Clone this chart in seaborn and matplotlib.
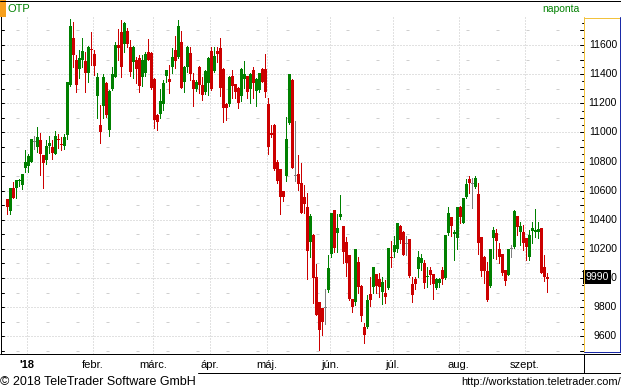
import numpy as np
import pandas as pd
import matplotlib
matplotlib.use("Agg")
import matplotlib.pyplot as plt
import seaborn as sns
from matplotlib.transforms import blended_transform_factory
from matplotlib.patches import Rectangle
from matplotlib.lines import Line2D

# ---------------- data (daily OHLC, OTP, Dec 2017 - Sep 2018) ----------------
open_ = [10540, 10462, 10615, 10620, 10665, 10639, 10753, 10771, 10799, 10936,
         10902, 10948, 10845, 10810, 10906, 10900, 10849, 10955, 10920, 10909,
         10982, 11325, 11646, 11497, 11435, 11497, 11490, 11405, 11568, 11536,
         11252, 11051, 11183, 11337, 11016, 11298, 11383, 11600, 11687, 11605,
         11696, 11589, 11481, 11497, 11508, 11383, 11405, 11554, 11543, 11367,
         11119, 11126, 11193, 11389, 11367, 11451, 11566, 11520, 11623, 11348,
         11451, 11543, 11360, 11298, 11451, 11325, 11280, 11337, 11559, 11421,
         11559, 11582, 11435, 11193, 11193, 11387, 11330, 11307, 11252, 11367,
         11387, 11298, 11428, 11284, 11291, 11435, 11435, 11193, 10995, 11051,
         10799, 10748, 10597, 10700, 11062, 11360, 10700, 10712, 10655, 10558,
         10490, 10249, 10295, 10009, 9833, 9792, 9792, 9918, 10165, 10467,
         10311, 10417, 10357, 10249, 10158, 9854, 9838, 10112, 9945, 9666,
         9661, 9890, 9940, 10027, 9991, 9906, 9895, 9929, 10146, 10181,
         10197, 10357, 10318, 10231, 10266, 9957, 9991, 10059, 10105, 10105,
         10010, 10055, 10027, 9929, 9968, 10055, 9997, 10311, 10416, 10302,
         10272, 10490, 10380, 10554, 10677, 10645, 10622, 10577, 10279, 10146,
         10050, 9945, 10272, 10311, 10197, 10165, 10055, 10020, 10197, 10210,
         10425, 10318, 10318, 10272, 10146, 10325, 10318, 10318, 10341, 10073,
         10009]
high = [10545, 10620, 10660, 10675, 10680, 10715, 10879, 10855, 10955, 10975,
        11037, 10998, 10845, 10948, 10975, 10948, 11010, 10989, 10970, 10989,
        11344, 11779, 11756, 11531, 11566, 11646, 11554, 11590, 11692, 11566,
        11405, 11188, 11400, 11348, 11290, 11451, 11623, 11710, 11772, 11756,
        11714, 11634, 11590, 11520, 11531, 11531, 11554, 11641, 11550, 11370,
        11125, 11298, 11360, 11430, 11463, 11577, 11662, 11772, 11696, 11455,
        11595, 11584, 11405, 11360, 11455, 11383, 11425, 11520, 11589, 11589,
        11589, 11650, 11440, 11200, 11390, 11428, 11335, 11310, 11440, 11490,
        11390, 11405, 11451, 11370, 11410, 11440, 11536, 11234, 11051, 11055,
        10810, 10752, 10600, 11108, 11400, 11365, 11078, 10845, 10792, 10639,
        10582, 10440, 10300, 10096, 9835, 9795, 9922, 10158, 10445, 10470,
        10440, 10570, 10360, 10279, 10160, 9858, 10200, 10142, 9950, 9689,
        9883, 10005, 10076, 10030, 10032, 10009, 9986, 10208, 10256, 10288,
        10378, 10364, 10320, 10288, 10270, 10009, 10009, 10185, 10165, 10125,
        10078, 10073, 10030, 9998, 9998, 10073, 10298, 10485, 10420, 10329,
        10490, 10495, 10550, 10677, 10700, 10684, 10700, 10654, 10282, 10150,
        10112, 10200, 10348, 10334, 10238, 10168, 10058, 10200, 10226, 10465,
        10428, 10387, 10364, 10275, 10329, 10387, 10471, 10387, 10345, 10158,
        10032]
low = [10440, 10440, 10550, 10552, 10630, 10612, 10730, 10730, 10795, 10884,
       10867, 10707, 10620, 10780, 10856, 10820, 10849, 10890, 10880, 10884,
       10952, 11320, 11451, 11280, 11371, 11451, 11280, 11348, 11463, 11394,
       11096, 10925, 11096, 11108, 10977, 11290, 11380, 11497, 11383, 11550,
       11589, 11389, 11371, 11337, 11275, 11321, 11389, 11497, 11298, 11032,
       11016, 11096, 11154, 11348, 11268, 11405, 11440, 11508, 11305, 11280,
       11417, 11360, 11183, 11284, 11268, 11222, 11261, 11257, 11291, 11417,
       11486, 11252, 11069, 11085, 11183, 11234, 11238, 11170, 11216, 11307,
       11238, 11200, 11234, 11183, 11280, 11345, 11245, 10849, 10970, 10745,
       10650, 10440, 10529, 10668, 11060, 10755, 10668, 10603, 10445, 10449,
       9991, 10142, 9831, 9745, 9506, 9609, 9684, 9906, 10146, 10181,
       10181, 10403, 10105, 10014, 9849, 9769, 9815, 9895, 9707, 9556,
       9660, 9808, 9899, 9899, 9867, 9822, 9831, 9922, 10078, 10142,
       10181, 10238, 10155, 10158, 10010, 9838, 9922, 10005, 10055, 9930,
       9940, 9958, 9853, 9922, 9936, 9958, 9990, 10295, 10288, 10123,
       10197, 10380, 10378, 10547, 10581, 10478, 10620, 10165, 10013, 9963,
       9845, 9940, 10135, 10128, 10105, 10020, 9952, 10018, 10142, 10208,
       10295, 10226, 10192, 10123, 10123, 10238, 10279, 10272, 10032, 9981,
       9906]
close = [10490, 10616, 10552, 10673, 10675, 10712, 10799, 10840, 10952, 10936,
         10968, 10849, 10792, 10906, 10925, 10861, 10975, 10946, 10910, 10966,
         11344, 11730, 11531, 11325, 11513, 11561, 11405, 11586, 11563, 11458,
         11383, 11000, 11380, 11119, 11284, 11400, 11600, 11582, 11451, 11749,
         11605, 11412, 11584, 11433, 11321, 11497, 11536, 11497, 11307, 11085,
         11069, 11215, 11337, 11428, 11348, 11520, 11490, 11733, 11307, 11451,
         11589, 11400, 11298, 11348, 11325, 11257, 11421, 11513, 11298, 11527,
         11536, 11307, 11170, 11170, 11383, 11321, 11280, 11200, 11435, 11400,
         11280, 11400, 11337, 11367, 11405, 11348, 11275, 10902, 10985, 10748,
         10666, 10558, 10558, 10954, 11400, 10758, 10700, 10647, 10447, 10508,
         10188, 10426, 9998, 9746, 9643, 9700, 9792, 10066, 10444, 10204,
         10341, 10440, 10181, 10101, 9854, 9799, 10197, 9940, 9739, 9609,
         9849, 9849, 10073, 9945, 9936, 9975, 9867, 10204, 10137, 10227,
         10375, 10261, 10158, 10231, 10014, 9883, 9959, 10142, 10140, 9968,
         10016, 10020, 9958, 9991, 9991, 9991, 10295, 10444, 10357, 10318,
         10485, 10421, 10547, 10645, 10650, 10645, 10684, 10238, 10050, 10050,
         9849, 10197, 10329, 10256, 10142, 10032, 9981, 10197, 10197, 10462,
         10348, 10357, 10238, 10210, 10295, 10341, 10329, 10334, 10036, 10009,
         9990]

month_labels = ["'18", "febr.", "márc.", "ápr.", "máj.", "jún.", "júl.", "aug.", "szept."]
month_start = [7, 29, 49, 68, 87, 108, 129, 151, 173]   # index of first trading day
y_tick_values = [9600, 9800, 10000, 10200, 10400, 10600, 10800, 11000, 11200, 11400, 11600]

title_text = "OTP"
period_text = "naponta"
copyright_text = "© 2018 TeleTrader Software GmbH"
url_text = "http://workstation.teletrader.com/"

# ---------------- style ----------------
sns.set_theme(style="white")
plt.rcParams['font.family'] = ['Liberation Sans', 'DejaVu Sans']
plt.rcParams['lines.scale_dashes'] = False

GREEN = '#008000'
RED = '#CC0000'
GRAY = '#808080'
GRID = '#C4C4C4'

W, H = 621, 390
fig = plt.figure(figsize=(W / 100, H / 100), dpi=100)
fig.patch.set_facecolor('white')

def fx(px):
    return px / W

def fy(py):
    return 1 - py / H

PX = 0.72  # one pixel in points

# plot area in pixels
L, R, T, B = 0.5, 583.5, 17, 353.5
ax = fig.add_axes([fx(L), fy(B), (R - L) / W, (B - T) / H])
ax.set_facecolor('white')

def xi(px):
    return (px - 7.3) / 3.0
upp = 2000 / 291.3
def yv(py):
    return 11600 - (py - 45) * upp
ax.set_xlim(xi(L), xi(R))
ax.set_ylim(yv(B), yv(T))

df = pd.DataFrame({'open': open_, 'high': high, 'low': low, 'close': close})
df['idx'] = np.arange(len(df))
df['color'] = np.where(df['close'] > df['open'], GREEN,
                       np.where(df['close'] < df['open'], RED, GRAY))
df['bottom'] = df[['open', 'close']].min(axis=1)
df['height'] = (df['close'] - df['open']).abs().clip(lower=upp)

# grid: dotted every 200, short dashes at odd hundreds, dotted month separators
for v in range(9600, 11801, 200):
    ax.axhline(v, color=GRID, lw=PX, ls=(0, (PX, 2 * PX)), zorder=1)
for v in range(9500, 11801, 200):
    ax.axhline(v, color='#CFCFCF', lw=PX, ls=(15 * PX, (3 * PX, 27 * PX)), zorder=1)
for m in month_start:
    ax.axvline(m - 0.5, color=GRID, lw=PX, ls=(0, (PX, 2 * PX)), zorder=1)

# candles
ax.vlines(df['idx'], df['low'], df['high'], colors=df['color'], lw=PX,
          zorder=2, antialiased=False)
ax.bar(df['idx'], df['height'], bottom=df['bottom'], width=0.95,
       color=df['color'], linewidth=0, zorder=3, antialiased=False)

# spines
for s in ['top', 'right', 'bottom']:
    ax.spines[s].set_visible(False)
ax.spines['left'].set_color('black')
ax.spines['left'].set_linewidth(PX)
ax.set_xticks([])
ax.set_yticks([])

# left ticks every 100 (pointing inward)
trL = blended_transform_factory(fig.transFigure, ax.transData)
for v in range(9500, 11801, 100):
    ax.add_line(Line2D([fx(0.5), fx(3.5)], [v, v], transform=trL, color='black', lw=PX))

# right axis panel
def pline(x0, y0, x1, y1, color='black', lw=PX, **kw):
    fig.add_artist(Line2D([fx(x0), fx(x1)], [fy(y0), fy(y1)], transform=fig.transFigure,
                          color=color, lw=lw, **kw))

YEL = '#F2C23C'
BLUE = '#1A2AA8'
pline(583.5, 17, 583.5, 352, YEL)
pline(583.5, 17.5, 620, 17.5, YEL)
pline(620, 17, 620, 352, BLUE)
pline(583.5, 351.5, 620.5, 351.5, BLUE)
for v in range(9500, 11801, 50):
    ln = 4 if v % 100 == 0 else 2
    ax.add_line(Line2D([fx(583.5 - ln), fx(583.5)], [v, v], transform=trL, color='black', lw=PX))
for v in y_tick_values:
    ax.text(fx(617), v, f"{v}", transform=trL, ha='right', va='center',
            fontsize=7.5, color='black')
last = close[-1]
ax.text(fx(585.5), last + 15, f"{last}", transform=trL, ha='left', va='center',
        fontsize=7.5, color='white', zorder=10,
        bbox=dict(boxstyle='square,pad=0.2', facecolor='black', edgecolor='none'))

# frame lines
pline(0, 0.5, 621, 0.5, 'black')
pline(0, 354, 621, 354, 'black')
pline(583.5, 354, 583.5, 373, 'black')
pline(620.5, 352, 620.5, 373, 'black')
pline(198, 373, 621, 373, 'black')

# month labels
trX = blended_transform_factory(ax.transData, fig.transFigure)
for lab, m in zip(month_labels, month_start):
    ax.text(m - 0.5, fy(364.5), lab, transform=trX, ha='center', va='center',
            fontsize=8, color='black', fontweight='bold' if lab.startswith("'") else 'normal',
            clip_on=False)

# header
fig.add_artist(Rectangle((fx(0), fy(17)), fx(6), 17 / H, transform=fig.transFigure,
                         facecolor='#F7A01C', edgecolor='none'))
fig.text(fx(8), fy(9), title_text, ha='left', va='center', fontsize=8, color=GREEN)
fig.text(fx(580), fy(9.5), period_text, ha='right', va='center', fontsize=7.5, color=GREEN)

# footer
fig.text(fx(0), fy(382), copyright_text, ha='left', va='center', fontsize=9, color='black')
fig.text(fx(621), fy(382), url_text, ha='right', va='center', fontsize=7.9, color='black')

fig.savefig('out.png', dpi=100, facecolor='white')
